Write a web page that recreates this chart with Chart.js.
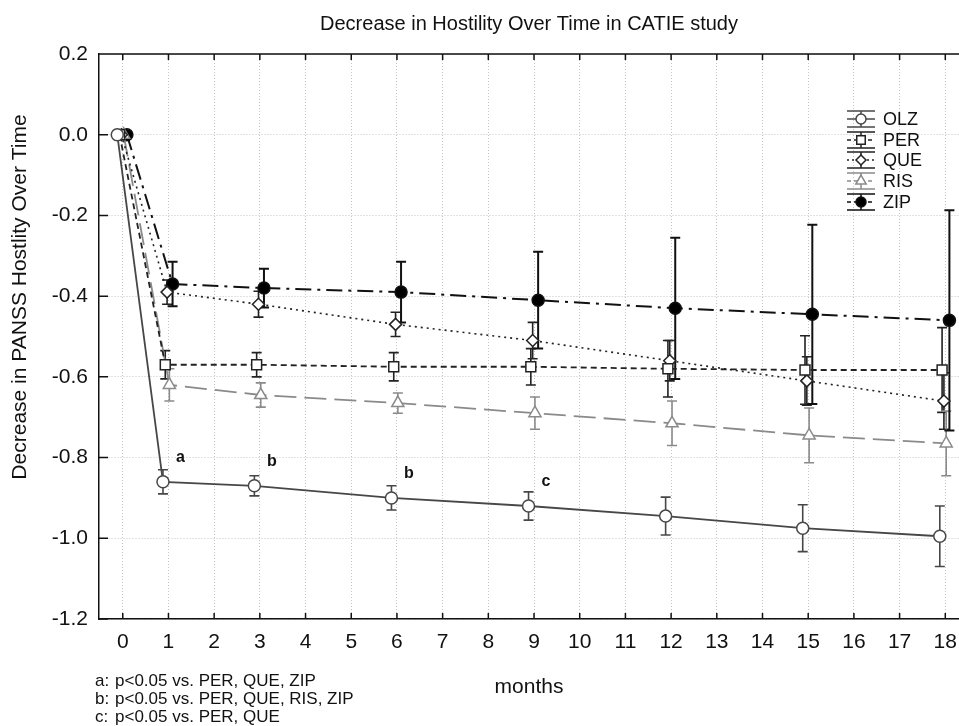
<!DOCTYPE html>
<html>
<head>
<meta charset="utf-8">
<title>Decrease in Hostility Over Time in CATIE study</title>
<script src="https://cdn.jsdelivr.net/npm/chart.js@4/dist/chart.umd.min.js"></script>
<style>
  html, body { margin: 0; padding: 0; background: #fff; }
  #wrap { width: 959px; height: 726px; }
</style>
</head>
<body>
<div id="wrap"><canvas id="chart" width="959" height="726"></canvas></div>
<script>
// months of follow-up and tick labels
const months = [0, 1, 3, 6, 9, 12, 15, 18];
const xTicks = [0, 1, 2, 3, 4, 5, 6, 7, 8, 9, 10, 11, 12, 13, 14, 15, 16, 17, 18];
const yTicks = [0.2, 0.0, -0.2, -0.4, -0.6, -0.8, -1.0, -1.2];

// mean change and error (half-length of bar) per drug
const olz = [0, -0.86, -0.87, -0.90, -0.92, -0.945, -0.975, -0.995];
const olzErr = [0, 0.03, 0.025, 0.03, 0.035, 0.047, 0.058, 0.075];
const per = [0, -0.57, -0.57, -0.575, -0.575, -0.58, -0.583, -0.583];
const perErr = [0, 0.035, 0.03, 0.035, 0.045, 0.07, 0.085, 0.105];
const que = [0, -0.39, -0.42, -0.47, -0.51, -0.56, -0.61, -0.66];
const queErr = [0, 0.03, 0.032, 0.03, 0.045, 0.05, 0.06, 0.07];
const ris = [0, -0.62, -0.645, -0.665, -0.69, -0.715, -0.745, -0.765];
const risErr = [0, 0.04, 0.03, 0.025, 0.04, 0.055, 0.068, 0.08];
const zip = [0, -0.37, -0.38, -0.39, -0.41, -0.43, -0.445, -0.46];
const zipErr = [0, 0.055, 0.048, 0.075, 0.12, 0.175, 0.222, 0.273];

// significance letters above OLZ
const noteMonths = [1, 3, 6, 9];
const noteLetters = ['a', 'b', 'b', 'c'];
const footnotes = [
  ['a:', 'p<0.05 vs. PER, QUE, ZIP'],
  ['b:', 'p<0.05 vs. PER, QUE, RIS, ZIP'],
  ['c:', 'p<0.05 vs. PER, QUE']
];
const yTitle = 'Decrease in PANSS Hostlity Over Time';

const FONT = '"Liberation Sans", Arial, sans-serif';

const series = [
  { label: 'OLZ', values: olz, err: olzErr, shift: -0.12, color: '#474747', dash: [], width: 1.8, style: 'circle', r: 6, fill: '#fff' },
  { label: 'PER', values: per, err: perErr, shift: -0.07, color: '#222', dash: [6, 4], width: 1.8, style: 'rect', r: 7, fill: '#fff' },
  { label: 'QUE', values: que, err: queErr, shift: -0.03, color: '#222', dash: [2, 4], width: 1.6, style: 'rectRot', r: 6, fill: '#fff' },
  { label: 'RIS', values: ris, err: risErr, shift: 0.02, color: '#8a8a8a', dash: [22, 8], width: 1.8, style: 'triangle', r: 7, fill: '#fff' },
  { label: 'ZIP', values: zip, err: zipErr, shift: 0.09, color: '#111', dash: [16, 6, 3, 6], width: 2, style: 'circle', r: 6, fill: '#000' }
];

const datasets = series.map(s => ({
  label: s.label,
  data: months.map((m, i) => ({ x: m + s.shift, y: s.values[i] })),
  errors: s.err,
  showLine: true,
  borderColor: s.color,
  borderWidth: s.width,
  borderDash: s.dash,
  pointStyle: s.style,
  pointRadius: s.r,
  pointBorderWidth: 1.5,
  pointBorderColor: s.color,
  pointBackgroundColor: s.fill,
  tension: 0
}));

const errorBars = {
  id: 'errorBars',
  beforeDatasetsDraw(chart) {
    const { ctx, scales: { x, y } } = chart;
    ctx.save();
    chart.data.datasets.forEach(ds => {
      ctx.strokeStyle = ds.borderColor;
      ctx.lineWidth = ds.label === 'ZIP' ? 2 : 1.6;
      ctx.setLineDash([]);
      ds.data.forEach((p, i) => {
        const e = ds.errors[i];
        if (!e) return;
        const px = x.getPixelForValue(p.x);
        const top = y.getPixelForValue(p.y + e);
        const bot = y.getPixelForValue(p.y - e);
        ctx.beginPath();
        ctx.moveTo(px, top); ctx.lineTo(px, bot);
        ctx.moveTo(px - 5, top); ctx.lineTo(px + 5, top);
        ctx.moveTo(px - 5, bot); ctx.lineTo(px + 5, bot);
        ctx.stroke();
      });
    });
    ctx.restore();
  }
};

const frame = {
  id: 'frame',
  afterDraw(chart) {
    const { ctx, chartArea: a, scales: { x, y } } = chart;
    ctx.save();
    ctx.strokeStyle = '#111';
    ctx.lineWidth = 1.5;
    ctx.setLineDash([]);
    ctx.beginPath();
    ctx.moveTo(a.left, a.top); ctx.lineTo(a.right, a.top);
    xTicks.forEach(t => {
      const px = x.getPixelForValue(t);
      ctx.moveTo(px, a.top); ctx.lineTo(px, a.top + 6);
      ctx.moveTo(px, a.bottom); ctx.lineTo(px, a.bottom - 6);
    });
    yTicks.forEach(t => {
      const py = y.getPixelForValue(t);
      ctx.moveTo(a.left, py); ctx.lineTo(a.left + 9, py);
    });
    ctx.stroke();

    ctx.fillStyle = '#111';
    ctx.textBaseline = 'middle';

    // y axis title
    ctx.save();
    ctx.translate(20, 297);
    ctx.rotate(-Math.PI / 2);
    ctx.textAlign = 'center';
    ctx.font = '21px ' + FONT;
    ctx.fillText(yTitle, 0, 0);
    ctx.restore();

    // significance letters
    ctx.font = 'bold 16px ' + FONT;
    ctx.textAlign = 'center';
    noteMonths.forEach((m, i) => {
      const idx = months.indexOf(m);
      ctx.fillText(noteLetters[i], x.getPixelForValue(m) + 12, y.getPixelForValue(olz[idx]) - 24);
    });

    // footnotes
    ctx.font = '17px ' + FONT;
    ctx.textAlign = 'left';
    footnotes.forEach((f, i) => {
      ctx.fillText(f[0], 95, 681 + i * 18);
      ctx.fillText(f[1], 115, 681 + i * 18);
    });

    // legend
    const lx = 861, rows = [119, 140, 160, 181, 202];
    series.forEach((s, i) => {
      const ly = rows[i];
      ctx.strokeStyle = s.color;
      ctx.lineWidth = 1.5;
      ctx.setLineDash([]);
      ctx.beginPath();
      ctx.moveTo(lx - 14, ly - 8); ctx.lineTo(lx + 14, ly - 8);
      ctx.moveTo(lx - 14, ly + 8); ctx.lineTo(lx + 14, ly + 8);
      ctx.moveTo(lx, ly - 8); ctx.lineTo(lx, ly + 8);
      ctx.stroke();
      ctx.setLineDash(s.dash.length ? [Math.min(s.dash[0], 4), 3] : []);
      ctx.beginPath();
      ctx.moveTo(lx - 14, ly); ctx.lineTo(lx + 14, ly);
      ctx.stroke();
      ctx.setLineDash([]);
      ctx.fillStyle = s.fill;
      Chart.helpers.drawPoint(ctx, { pointStyle: s.style, radius: s.r - 1, borderWidth: 1.5, rotation: 0 }, lx, ly);
      ctx.fillStyle = '#111';
      ctx.font = '18px ' + FONT;
      ctx.textAlign = 'left';
      ctx.fillText(s.label, 883, ly + 1);
    });
    ctx.restore();
  }
};

new Chart(document.getElementById('chart'), {
  type: 'scatter',
  data: { datasets },
  options: {
    responsive: false,
    animation: false,
    layout: { padding: 0, autoPadding: false },
    plugins: {
      legend: { display: false },
      tooltip: { enabled: false },
      title: {
        display: true,
        fullSize: false,
        text: 'Decrease in Hostility Over Time in CATIE study',
        color: '#111',
        font: { family: FONT, size: 20, weight: 'normal', lineHeight: 1.2 },
        padding: { top: 12, bottom: 18 }
      }
    },
    scales: {
      x: {
        type: 'linear',
        min: -0.52,
        max: 18.3,
        afterBuildTicks: s => { s.ticks = xTicks.map(v => ({ value: v })); },
        afterFit: s => { s.height = 107; s.paddingLeft = 0; s.paddingRight = 0; },
        ticks: { color: '#111', font: { family: FONT, size: 21 }, padding: 11, callback: v => String(v) },
        grid: { color: '#c4c4c4', lineWidth: 1, drawTicks: false },
        border: { color: '#111', width: 1.5, dash: [1, 2] },
        title: {
          display: true, text: 'months', color: '#111',
          font: { family: FONT, size: 21 }, padding: { top: 0, bottom: 26 }
        }
      },
      y: {
        min: -1.2,
        max: 0.2,
        afterBuildTicks: s => { s.ticks = yTicks.map(v => ({ value: v })); },
        afterFit: s => { s.width = 99; s.paddingTop = 0; s.paddingBottom = 0; },
        ticks: { color: '#111', font: { family: FONT, size: 21 }, padding: 11, callback: v => v.toFixed(1) },
        grid: { color: '#c4c4c4', lineWidth: 1, drawTicks: false },
        border: { color: '#111', width: 1.5, dash: [1, 2] }
      }
    }
  },
  plugins: [errorBars, frame]
});
</script>
</body>
</html>
